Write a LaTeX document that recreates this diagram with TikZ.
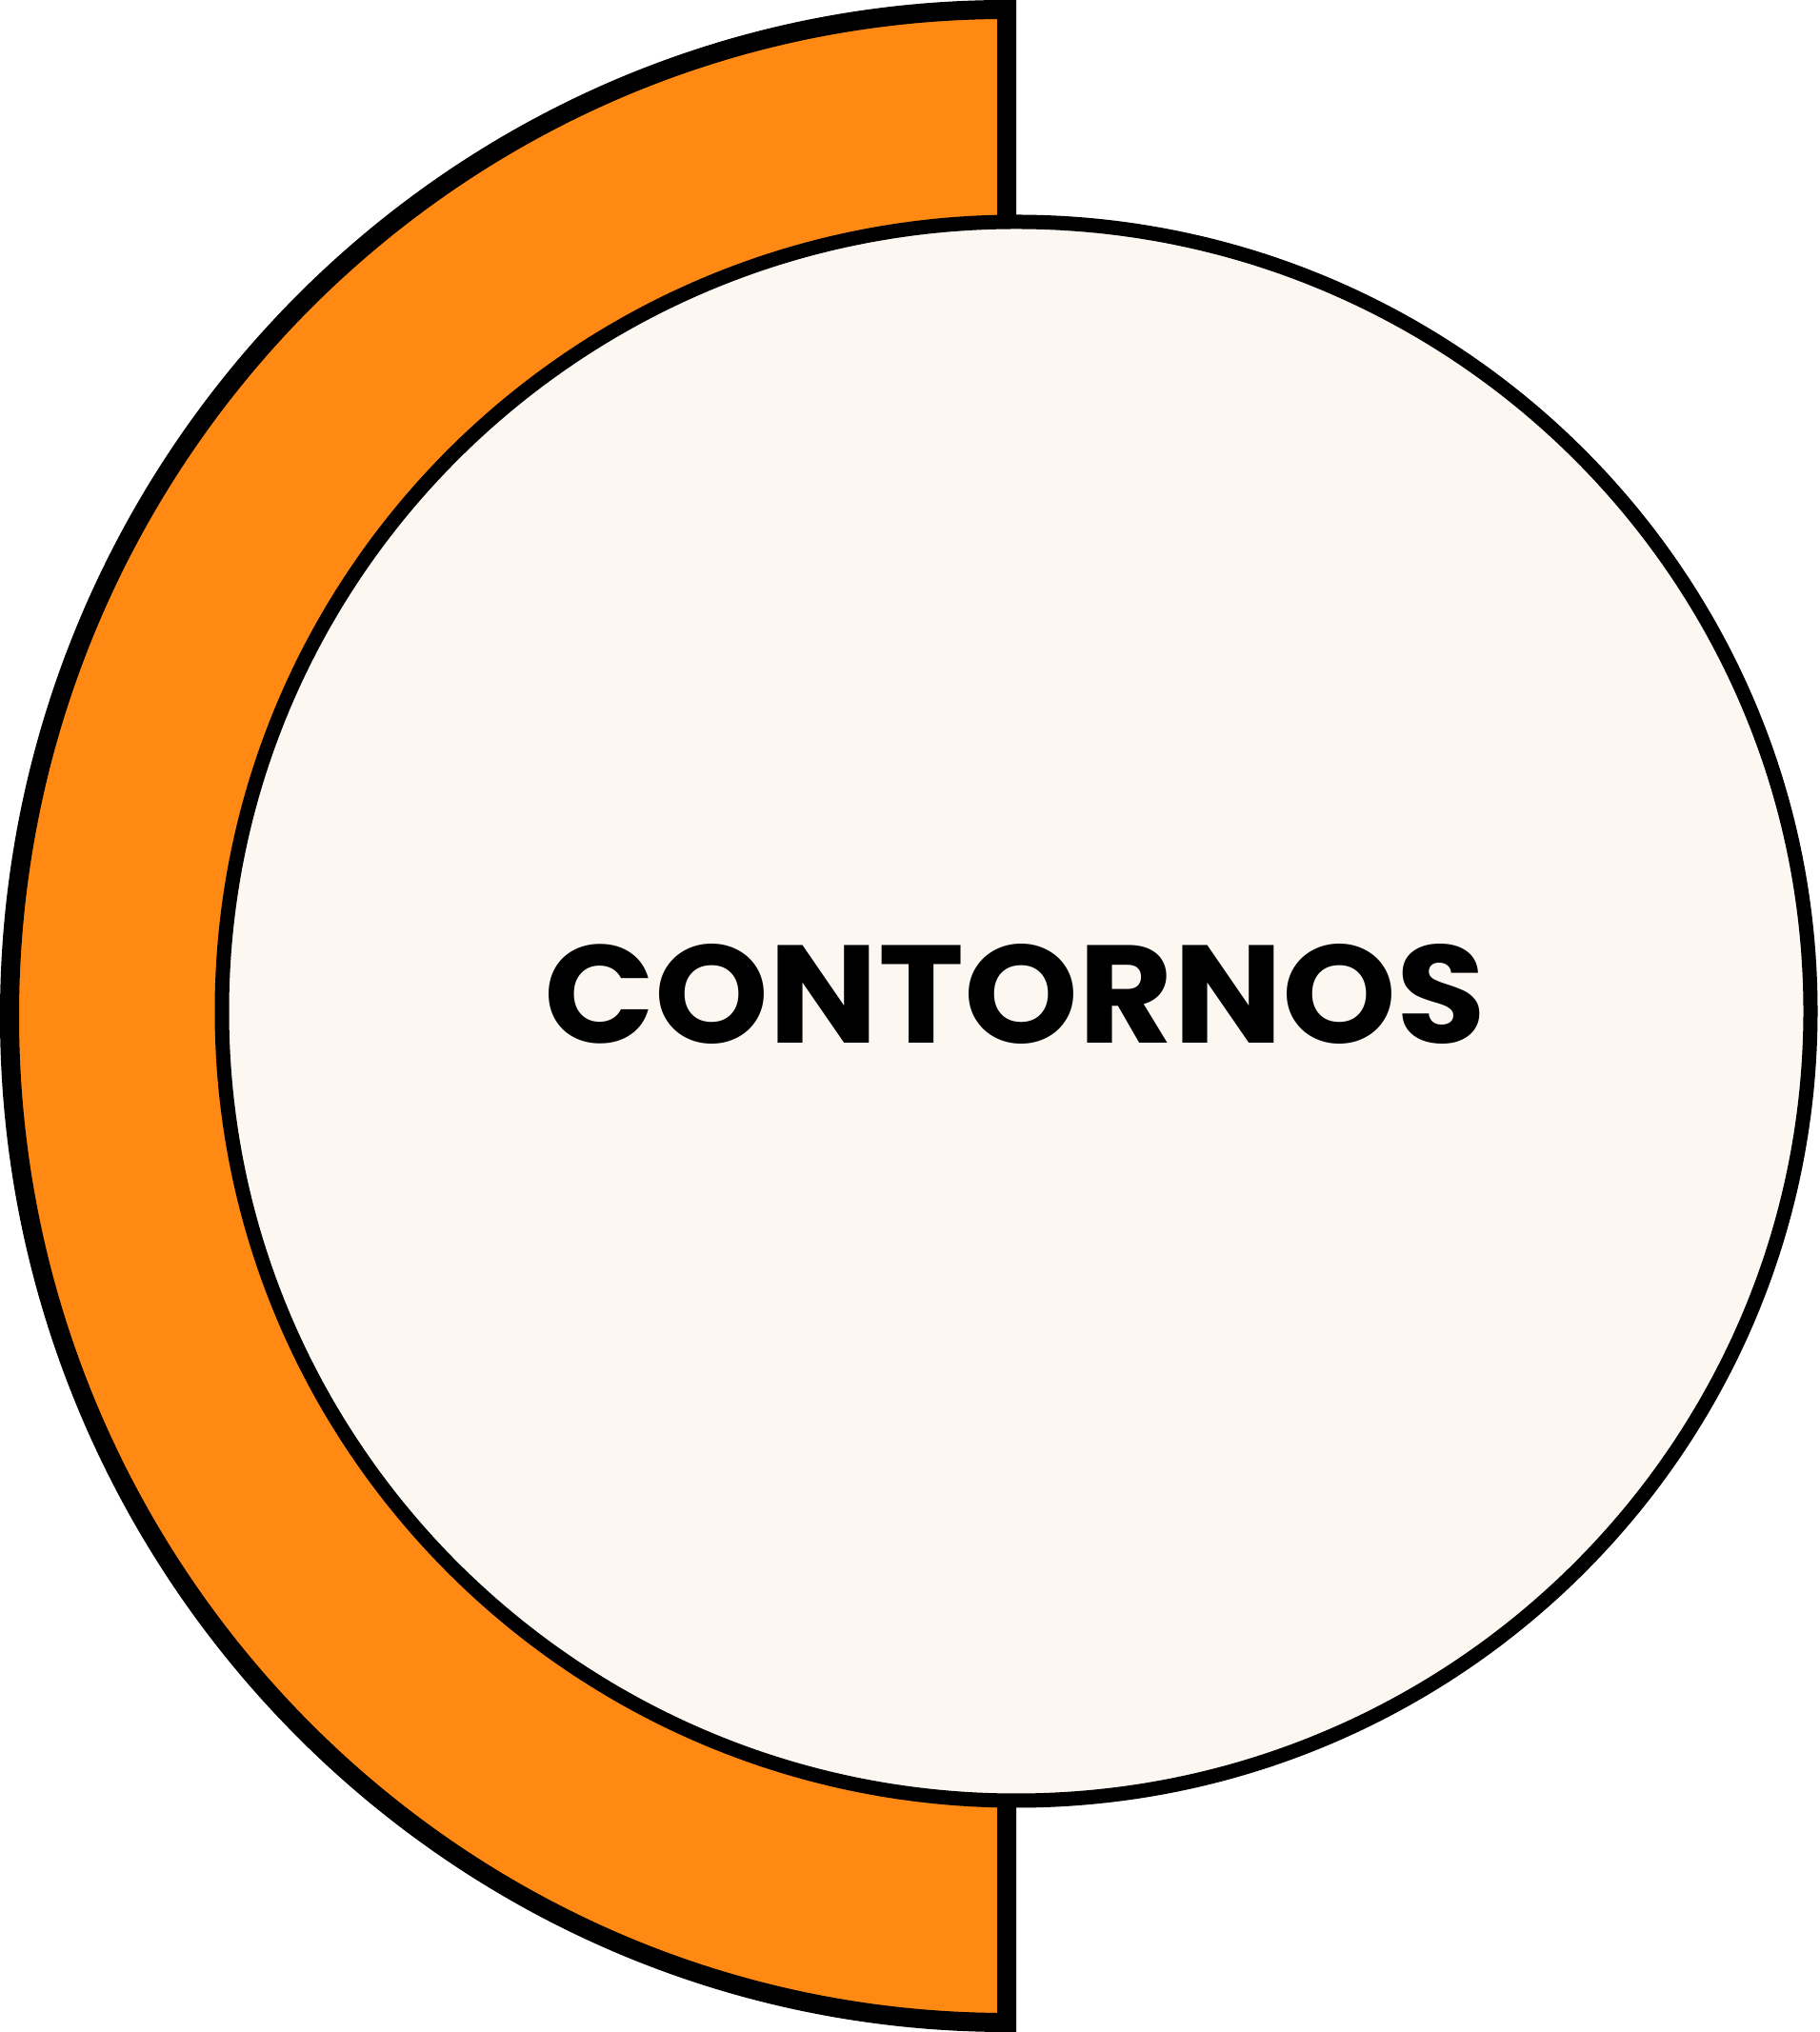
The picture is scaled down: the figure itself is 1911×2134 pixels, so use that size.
\documentclass[tikz,border=0pt]{standalone}
\usepackage{fontspec}
\usepackage{graphicx}
\newfontfamily\popfont{Poppins}
\definecolor{orangefill}{HTML}{FF8913}
\definecolor{creamfill}{HTML}{FDF7F1}
\begin{document}
\begin{tikzpicture}[x=1pt,y=1pt,
  halfdisk/.style={fill=orangefill,draw=black,line width=20pt,line join=miter},
  innerdisk/.style={fill=creamfill,draw=black,line width=15pt},
  label/.style={inner sep=0pt,text=black}]
\useasboundingbox (0,0) rectangle (1911,2134);
\draw[halfdisk] (1057,2124) -- (1057,10) arc[start angle=270,end angle=90,x radius=1047,y radius=1057] -- cycle;
\draw[innerdisk] (1067,1072) ellipse[x radius=834,y radius=829];
\node[label] (title) at (1066,1090) {\resizebox{989pt}{104pt}{\popfont\bfseries CONTORNOS}};
\end{tikzpicture}
\end{document}
